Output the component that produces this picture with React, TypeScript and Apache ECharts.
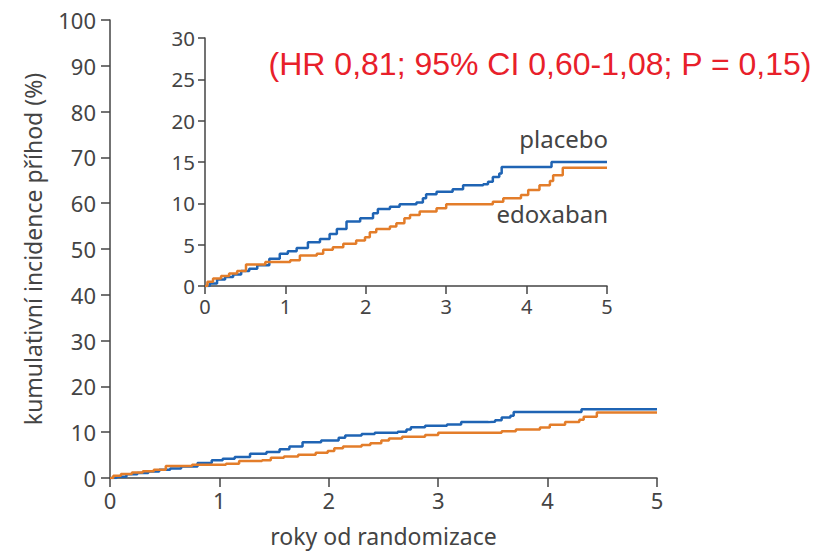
import React, { useEffect, useRef } from "react";
import * as echarts from "echarts";

const placeboTimes = [0, 0.06, 0.15, 0.25, 0.35, 0.45, 0.55, 0.65, 0.8, 0.93, 1.03, 1.14, 1.28, 1.43, 1.55, 1.64, 1.76, 1.93, 2.09, 2.15, 2.3, 2.42, 2.63, 2.71, 2.75, 2.88, 3.08, 3.21, 3.46, 3.52, 3.58, 3.66, 3.69, 4.31, 5];
const placeboValues = [0, 0.3, 0.8, 1.1, 1.4, 1.8, 2.1, 2.5, 3.3, 3.9, 4.2, 4.6, 5.3, 5.7, 6.3, 6.9, 7.8, 8.2, 8.8, 9.3, 9.6, 9.9, 10.1, 10.6, 11.1, 11.4, 11.7, 12.2, 12.3, 12.6, 13.2, 13.6, 14.4, 15.0, 15.0];

const edoxabanTimes = [0, 0.03, 0.1, 0.2, 0.3, 0.4, 0.51, 0.75, 1.06, 1.18, 1.39, 1.47, 1.59, 1.72, 1.88, 1.99, 2.05, 2.13, 2.3, 2.38, 2.48, 2.55, 2.67, 2.88, 3.0, 3.58, 3.71, 3.93, 4.02, 4.16, 4.29, 4.33, 4.45, 5];
const edoxabanValues = [0, 0.5, 0.9, 1.2, 1.5, 1.8, 2.6, 2.9, 3.1, 3.7, 3.9, 4.4, 4.7, 5.1, 5.5, 5.9, 6.5, 6.9, 7.2, 7.6, 8.2, 8.6, 9.0, 9.4, 9.9, 10.2, 10.6, 11.0, 11.6, 12.2, 12.7, 13.4, 14.3, 14.3];

const seriesNames = ["placebo", "edoxaban"];
const annotation = "(HR 0,81; 95% CI 0,60-1,08; P = 0,15)";
const xTitle = "roky od randomizace";
const yTitle = "kumulativní incidence příhod (%)";

const BLUE = "#1f64b4";
const ORANGE = "#e37d2a";
const AXIS = "#444";
const FONT = "Noto Sans";

function pairs(t: number[], v: number[]) {
  return t.map((x, i) => [x, v[i]]);
}

export default function App() {
  const ref = useRef<HTMLDivElement>(null);
  useEffect(() => {
    if (!ref.current) return;
    const chart = echarts.init(ref.current, null, { renderer: "svg" });
    const axisCommon = {
      axisLine: { show: true, lineStyle: { color: AXIS, width: 1.5 } },
      axisTick: { show: true, inside: false, length: 9, lineStyle: { color: AXIS, width: 1.5 } },
      splitLine: { show: false },
    };
    const placebo = pairs(placeboTimes, placeboValues);
    const edox = pairs(edoxabanTimes, edoxabanValues);
    chart.setOption({
      animation: false,
      backgroundColor: "#fff",
      textStyle: { fontFamily: FONT },
      grid: [
        { left: 110, top: 20, width: 547, height: 458 },
        { left: 205, top: 38, width: 402, height: 248 },
      ],
      xAxis: [
        {
          gridIndex: 0, type: "value", min: 0, max: 5, interval: 1,
          ...axisCommon,
          axisLabel: { color: AXIS, fontSize: 22, margin: 11, fontFamily: FONT },
          name: xTitle, nameLocation: "middle", nameGap: 46,
          nameTextStyle: { color: AXIS, fontSize: 23, fontFamily: FONT },
        },
        {
          gridIndex: 1, type: "value", min: 0, max: 5, interval: 1,
          ...axisCommon,
          axisTick: { show: true, inside: false, length: 8, lineStyle: { color: AXIS, width: 1.5 } },
          axisLabel: { color: AXIS, fontSize: 20, margin: 10, fontFamily: FONT },
        },
      ],
      yAxis: [
        {
          gridIndex: 0, type: "value", min: 0, max: 100, interval: 10,
          ...axisCommon,
          axisLabel: { color: AXIS, fontSize: 22, margin: 14, fontFamily: FONT },
          name: yTitle, nameLocation: "middle", nameRotate: 90, nameGap: 66,
          nameTextStyle: { color: AXIS, fontSize: 23, fontFamily: FONT },
        },
        {
          gridIndex: 1, type: "value", min: 0, max: 30, interval: 5,
          ...axisCommon,
          axisTick: { show: true, inside: false, length: 7, lineStyle: { color: AXIS, width: 1.5 } },
          axisLabel: { color: AXIS, fontSize: 20.5, margin: 10, fontFamily: FONT },
        },
      ],
      series: [
        { name: seriesNames[0], type: "line", step: "end", xAxisIndex: 0, yAxisIndex: 0, data: placebo, showSymbol: false, lineStyle: { color: BLUE, width: 2.5 }, z: 2 },
        { name: seriesNames[1], type: "line", step: "end", xAxisIndex: 0, yAxisIndex: 0, data: edox, showSymbol: false, lineStyle: { color: ORANGE, width: 2.5 }, z: 3 },
        { name: seriesNames[0], type: "line", step: "end", xAxisIndex: 1, yAxisIndex: 1, data: placebo, showSymbol: false, lineStyle: { color: BLUE, width: 2.5 }, z: 2 },
        { name: seriesNames[1], type: "line", step: "end", xAxisIndex: 1, yAxisIndex: 1, data: edox, showSymbol: false, lineStyle: { color: ORANGE, width: 2.5 }, z: 3 },
      ],
      graphic: [
        { type: "text", right: 3, top: 48, style: { text: annotation, fill: "#e8202a", fontSize: 32, fontFamily: "Liberation Sans" } },
        { type: "text", right: 207, top: 126, style: { text: seriesNames[0], fill: AXIS, fontSize: 24, fontFamily: FONT } },
        { type: "text", right: 207, top: 201, style: { text: seriesNames[1], fill: AXIS, fontSize: 24, fontFamily: FONT } },
      ],
    });
    return () => chart.dispose();
  }, []);
  return <div ref={ref} style={{ position: "fixed", left: 0, top: 0, width: 815, height: 552 }} />;
}
